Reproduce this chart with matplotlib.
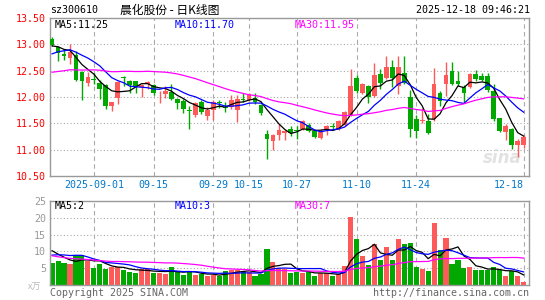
import matplotlib
matplotlib.use("Agg")
import matplotlib.pyplot as plt
import numpy as np
import pandas as pd

plt.rcParams['font.family'] = ['DejaVu Sans Mono']

# daily candles, 2025-08-21 .. 2025-12-18
open_p = [13.11, 12.95, 12.82, 12.74, 12.80, 12.47, 12.26, 12.34, 12.26, 12.22,
          11.83, 11.99, 12.38, 12.31, 12.30, 12.19, 12.24, 12.22, 12.09, 12.06,
          12.10, 11.97, 11.92, 11.76, 11.65, 11.90, 11.63, 11.76, 11.91, 11.81,
          11.81, 11.75, 11.97, 11.94, 11.98, 11.84, 11.29, 11.16, 11.27, 11.31,
          11.39, 11.37, 11.39, 11.47, 11.35, 11.23, 11.39, 11.44, 11.39, 11.46,
          11.65, 12.36, 12.08, 12.20, 12.02, 12.44, 12.36, 12.57, 12.20, 12.46,
          12.00, 11.58, 11.54, 11.55, 11.58, 12.08, 12.24, 12.49, 12.31, 12.19,
          12.19, 12.44, 12.39, 12.39, 12.11, 11.60, 11.34, 11.39, 11.09, 11.08]
high_p = [13.14, 12.96, 12.92, 13.00, 12.87, 12.50, 12.47, 12.46, 12.33, 12.24,
          11.90, 12.30, 12.39, 12.33, 12.31, 12.24, 12.31, 12.24, 12.11, 12.21,
          12.25, 11.99, 11.96, 11.82, 11.90, 11.94, 11.81, 11.94, 11.95, 11.90,
          12.04, 12.04, 12.08, 12.08, 12.07, 11.86, 11.38, 11.29, 11.48, 11.37,
          11.45, 11.44, 11.56, 11.51, 11.38, 11.40, 11.46, 11.50, 11.57, 11.73,
          12.54, 12.42, 12.27, 12.22, 12.64, 12.54, 12.78, 12.71, 12.78, 12.77,
          12.14, 11.65, 11.80, 11.67, 12.55, 12.11, 12.66, 12.66, 12.49, 12.22,
          12.46, 12.52, 12.46, 12.46, 12.24, 11.61, 11.48, 11.42, 11.21, 11.28]
low_p = [12.96, 12.68, 12.70, 12.63, 12.30, 11.94, 12.21, 12.24, 11.97, 11.77,
         11.74, 11.86, 12.20, 12.08, 12.08, 12.00, 12.16, 12.03, 11.89, 11.99,
         11.95, 11.77, 11.69, 11.40, 11.62, 11.68, 11.56, 11.57, 11.79, 11.71,
         11.78, 11.52, 11.90, 11.92, 11.87, 11.66, 10.82, 11.00, 11.19, 11.19,
         11.26, 11.21, 11.37, 11.33, 11.23, 11.21, 11.27, 11.37, 11.37, 11.44,
         11.63, 12.08, 12.06, 11.89, 12.00, 12.15, 12.34, 12.19, 12.05, 12.24,
         11.25, 11.23, 11.50, 11.30, 11.55, 11.83, 12.02, 12.22, 12.20, 11.89,
         12.17, 12.30, 12.30, 12.10, 11.55, 11.33, 11.18, 11.02, 10.86, 11.04]
close_p = [12.99, 12.84, 12.77, 12.85, 12.32, 12.30, 12.38, 12.32, 12.16, 11.83,
           11.90, 12.28, 12.36, 12.22, 12.19, 12.22, 12.28, 12.08, 12.10, 12.12,
           11.97, 11.88, 11.78, 11.73, 11.88, 11.71, 11.76, 11.90, 11.88, 11.79,
           11.95, 11.97, 11.94, 12.06, 11.90, 11.69, 11.21, 11.27, 11.38, 11.36,
           11.32, 11.36, 11.54, 11.36, 11.25, 11.34, 11.44, 11.43, 11.54, 11.71,
           12.20, 12.12, 12.24, 12.00, 12.42, 12.27, 12.57, 12.36, 12.57, 12.27,
           11.40, 11.36, 11.57, 11.32, 12.24, 11.92, 12.41, 12.24, 12.24, 12.08,
           12.44, 12.34, 12.33, 12.14, 11.58, 11.36, 11.44, 11.08, 11.16, 11.25]
# volume, x万
volume = [6.6, 7.0, 6.4, 6.3, 8.8, 8.8, 7.0, 5.1, 6.2, 4.8,
          5.3, 5.3, 4.6, 3.9, 3.6, 4.8, 4.8, 3.6, 3.5, 3.3,
          5.4, 3.9, 3.0, 4.3, 2.9, 3.4, 2.7, 2.9, 2.8, 4.2,
          4.6, 4.6, 3.9, 3.8, 2.8, 3.4, 10.8, 6.9, 5.0, 4.7,
          3.7, 3.9, 3.7, 4.0, 2.7, 3.6, 3.6, 2.8, 3.2, 5.7,
          20.2, 13.7, 8.6, 6.0, 12.1, 7.4, 11.4, 7.4, 13.7, 12.2,
          12.6, 5.3, 4.8, 4.3, 18.5, 10.5, 14.0, 6.3, 7.4, 5.0,
          5.4, 4.5, 4.4, 4.4, 5.3, 4.4, 2.8, 4.2, 2.8, 0.8]
# sessions before the window (only feed the moving averages)
prior_close = [12.40, 12.35, 12.30, 12.42, 12.38, 12.30, 12.28, 12.35, 12.32, 12.27,
               12.22, 12.18, 12.25, 12.30, 12.20, 12.15, 12.24, 12.28, 12.31, 12.40,
               12.45, 12.58, 12.66, 12.78, 12.88, 12.92, 13.02, 12.95, 12.97]
prior_volume = [16, 14, 13, 12, 12, 11, 10, 11, 9, 9,
                5, 6, 5, 6, 6, 5, 6, 5, 6, 5,
                6, 7, 8, 8, 9, 12, 11, 10.4, 11]

date_idx = [7, 17, 27, 33, 41, 51, 61, 79]
date_labels = ['2025-09-01', '09-15', '09-29', '10-15', '10-27', '11-10', '11-24', '12-18']
price_ticks = [10.5, 11.0, 11.5, 12.0, 12.5, 13.0, 13.5]
vol_ticks = [5, 10, 15, 20, 25]

RED = '#ff5a5a'
GREEN = '#00a800'
GRID = '#aaaaaa'
W, H = 545, 300


def ma(values, prior, n):
    s = pd.Series(list(prior) + list(values))
    return s.rolling(n).mean().to_numpy()[len(prior):]


def box(l, t, r, b):
    return [l / W, 1 - b / H, (r - l) / W, (b - t) / H]


def style_axes(ax, hlines):
    for sp in ax.spines.values():
        sp.set_color('#999999')
        sp.set_linewidth(1)
    for h in hlines:
        ax.axhline(h, color=GRID, lw=0.8, ls=(0, (1, 2)), zorder=0)
    for i in date_idx:
        ax.axvline(i, color=GRID, lw=0.8, ls=(0, (4, 3)), zorder=0)
    ax.tick_params(length=0, pad=3)


fig = plt.figure(figsize=(5.45, 3.0), dpi=100)
ax = fig.add_axes(box(50, 18, 529, 176))
axv = fig.add_axes(box(50, 201, 529, 285))

x = np.arange(len(close_p))
o = np.array(open_p)
c = np.array(close_p)
colors = np.where(c >= o, RED, GREEN)

# price panel
style_axes(ax, [11.0, 11.5, 12.0, 12.5, 13.0])
ax.text(0.985, 0.06, 'sina', transform=ax.transAxes, ha='right', va='bottom',
        color='#e2e2e2', fontsize=12, fontstyle='italic', fontweight='bold',
        family='DejaVu Sans', zorder=0)
ax.vlines(x, low_p, high_p, colors=colors, lw=1, zorder=2)
ax.bar(x, np.maximum(np.abs(c - o), 0.01), bottom=np.minimum(o, c), width=0.8,
       color=colors, linewidth=0, zorder=3)
ax.plot(x, ma(close_p, prior_close, 5), color='black', lw=0.9, zorder=4)
ax.plot(x, ma(close_p, prior_close, 10), color='#0000ff', lw=0.9, zorder=4)
ax.plot(x, ma(close_p, prior_close, 30), color='#ff00ff', lw=0.9, zorder=4)
ax.set_xlim(-0.35, 79.9)
ax.set_ylim(10.5, 13.5)
ax.set_yticks(price_ticks)
ax.set_yticklabels([f'{p:.2f}' for p in price_ticks], color='red', fontsize=7.2)
ax.set_xticks(date_idx)
ax.set_xticklabels(date_labels, color='#0078c8', fontsize=7.2)
ax.get_xticklabels()[-1].set_ha('right')

# volume panel
style_axes(axv, [5, 10, 15, 20])
axv.bar(x, volume, width=0.85, color=colors, linewidth=0, zorder=2)
axv.plot(x, ma(volume, prior_volume, 5), color='black', lw=0.9, zorder=4)
axv.plot(x, ma(volume, prior_volume, 10), color='#0000ff', lw=0.9, zorder=4)
axv.plot(x, ma(volume, prior_volume, 30), color='#ff00ff', lw=0.9, zorder=4)
axv.set_xlim(-0.35, 79.9)
axv.set_ylim(0, 25)
axv.set_yticks(vol_ticks)
axv.set_yticklabels([str(v) for v in vol_ticks], color='#999999', fontsize=7.2)
axv.set_xticks(date_idx)
axv.set_xticklabels([])

# header and labels
cjk = ['Noto Sans CJK SC', 'DejaVu Sans']
fig.text(50 / W, 1 - 10 / H, 'sz300610', fontsize=7.2, va='center')
fig.text(120 / W, 1 - 10 / H, '晨化股份 - 日K线图', family=cjk, fontsize=8.5, va='center')
fig.text(530 / W, 1 - 10 / H, '2025-12-18 09:46:21', fontsize=7.2, va='center', ha='right')
fig.text(55 / W, 1 - 24.5 / H, 'MA5:11.25', fontsize=7.2, va='center', color='black')
fig.text(175 / W, 1 - 24.5 / H, 'MA10:11.70', fontsize=7.2, va='center', color='#0000ff')
fig.text(295 / W, 1 - 24.5 / H, 'MA30:11.95', fontsize=7.2, va='center', color='#ff00ff')
fig.text(55 / W, 1 - 206 / H, 'MA5:2', fontsize=7.2, va='center', color='black')
fig.text(175 / W, 1 - 206 / H, 'MA10:3', fontsize=7.2, va='center', color='#0000ff')
fig.text(295 / W, 1 - 206 / H, 'MA30:7', fontsize=7.2, va='center', color='#ff00ff')
fig.text(28 / W, 1 - 287 / H, 'x万', family=cjk, fontsize=6.5, va='center', color='#bbbbbb',
         fontstyle='italic')
fig.text(50 / W, 1 - 292.5 / H, 'Copyright 2025 SINA.COM', fontsize=7.2, va='center', color='#666666')
fig.text(529 / W, 1 - 292.5 / H, 'http://finance.sina.com.cn', fontsize=7.2, va='center',
         ha='right', color='#666666')

fig.savefig('out.png', dpi=100, facecolor='white')
